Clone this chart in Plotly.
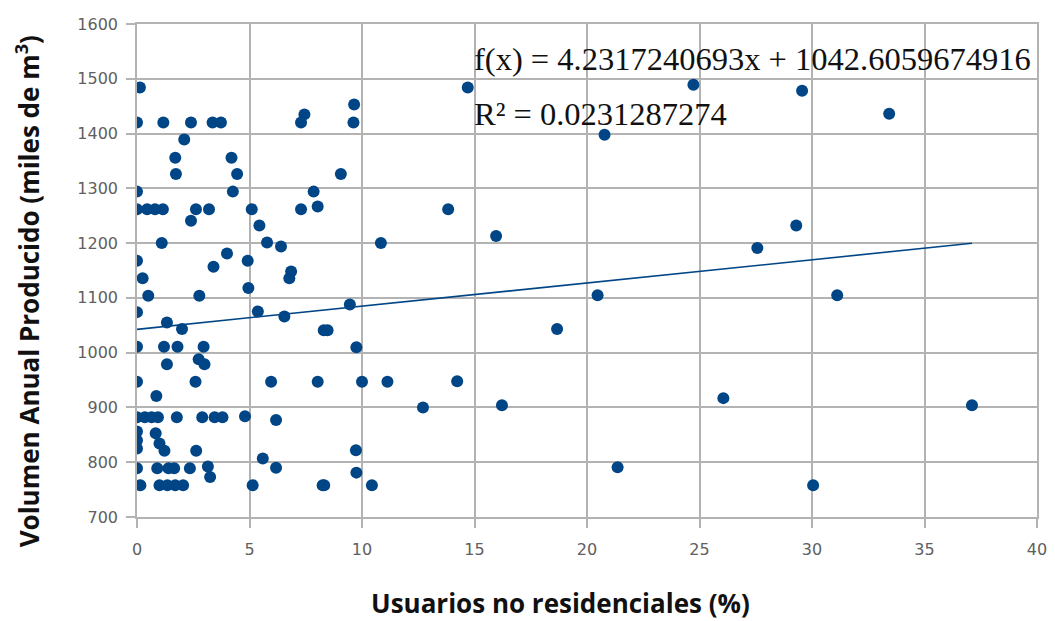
import plotly.graph_objects as go

# Share of non-residential users (%) and annual volume produced (thousand m3)
usuarios_pct = [
    0.13, 0.0, 1.17, 2.4, 3.36, 3.73, 2.1, 1.7, 1.73, 0.0,
    0.0, 0.45, 0.8, 1.15, 2.62, 3.2, 2.4, 1.1, 0.0, 0.25,
    3.4, 4.0, 0.5, 2.77, 0.0, 1.33, 2.0, 0.0, 1.2, 1.8,
    2.96, 1.33, 2.74, 3.0, 0.0, 2.6, 0.86, 0.0, 0.35, 0.65,
    0.93, 1.77, 2.9, 3.45, 3.8, 4.8, 6.18, 0.0, 0.0, 0.0,
    0.83, 1.0, 1.22, 2.63, 0.0, 0.9, 1.4, 1.65, 2.35, 3.15,
    3.25, 0.15, 1.0, 1.35, 1.7, 2.05, 7.44, 7.29, 4.2, 4.45,
    4.26, 5.1, 5.44, 5.78, 6.4, 7.29, 8.03, 7.85, 6.85, 6.77,
    4.92, 4.95, 5.37, 6.55, 8.3, 5.96, 8.03, 5.59, 6.18, 5.14,
    8.25, 9.65, 9.62, 9.06, 10.84, 9.46, 8.47, 9.75, 10.0, 11.13,
    12.71, 9.73, 9.75, 8.32, 10.44, 13.83, 14.7, 14.23, 15.96, 16.22,
    18.67, 20.47, 20.78, 21.36, 24.73, 26.06, 27.57, 29.3, 29.56, 30.05,
    31.12, 33.43, 37.11,
]
volumen_anual = [
    1484, 1420, 1420, 1420, 1420, 1420, 1389, 1356, 1326, 1294,
    1262, 1262, 1262, 1262, 1262, 1262, 1241, 1200, 1168, 1136,
    1157, 1181, 1104, 1104, 1074, 1055, 1043, 1011, 1011, 1011,
    1011, 979, 988, 979, 947, 947, 921, 882, 882, 882,
    882, 882, 882, 882, 882, 884, 877, 856, 840, 825,
    853, 834, 821, 821, 789, 789, 789, 789, 789, 792,
    773, 758, 758, 758, 758, 758, 1435, 1420, 1356, 1326,
    1294, 1262, 1232, 1201, 1194, 1262, 1267, 1294, 1148, 1136,
    1168, 1118, 1075, 1066, 1041, 947, 947, 807, 790, 758,
    758, 1453, 1420, 1326, 1200, 1088, 1041, 1010, 947, 947,
    900, 822, 781, 758, 758, 1262, 1484, 948, 1213, 904,
    1043, 1105, 1398, 791, 1489, 917, 1191, 1232, 1478, 758,
    1105, 1436, 904,
]

# Linear trend reported in the chart
pendiente = 4.2317240693
intercepto = 1042.6059674916
r_cuadrado = 0.0231287274

x_min, x_max = min(usuarios_pct), max(usuarios_pct)
tendencia_x = [x_min, x_max]
tendencia_y = [intercepto + pendiente * v for v in tendencia_x]

azul = "#004586"
gris = "#b3b3b3"

fig = go.Figure()
fig.add_trace(go.Scatter(
    x=usuarios_pct, y=volumen_anual, mode="markers",
    marker=dict(color=azul, size=12, line=dict(width=0)),
    showlegend=False, hoverinfo="x+y",
))
fig.add_trace(go.Scatter(
    x=tendencia_x, y=tendencia_y, mode="lines",
    line=dict(color=azul, width=1.6),
    showlegend=False, hoverinfo="skip",
))

esp = "\u00a0"
ecuacion = f"f(x){esp}={esp}{pendiente:.10f}x{esp}+{esp}{intercepto:.10f}"
r2_texto = f"R²{esp}={esp}{r_cuadrado:.10f}"

fuente_eq = dict(family="Liberation Serif", size=32.5, color="#111111")
fig.add_annotation(
    x=14.9, y=1536, xref="x", yref="y", text=ecuacion, showarrow=False,
    xanchor="left", yanchor="middle", font=fuente_eq,
)
fig.add_annotation(
    x=14.9, y=1436, xref="x", yref="y", text=r2_texto, showarrow=False,
    xanchor="left", yanchor="middle", font=fuente_eq,
)

# Axis titles placed as annotations (paper coordinates)
fuente_titulo = dict(family="Open Sans", size=26, color="#111111", weight="bold")
fig.add_annotation(
    x=-0.121, y=0.458, xref="paper", yref="paper",
    text="Volumen Anual Producido (miles de m<sup>3</sup>)",
    textangle=-90, showarrow=False, xanchor="center", yanchor="middle",
    font=fuente_titulo,
)
fig.add_annotation(
    x=0.4706, y=-0.1744, xref="paper", yref="paper",
    text="Usuarios no residenciales (%)",
    showarrow=False, xanchor="center", yanchor="middle",
    font=fuente_titulo,
)

eje_comun = dict(
    showgrid=True, gridcolor=gris, gridwidth=1.5,
    showline=True, linecolor=gris, linewidth=1.5, mirror=True,
    ticks="outside", ticklen=9, tickcolor=gris, tickwidth=1.5,
    tickfont=dict(family="DejaVu Sans", size=16, color="#606060"),
    zeroline=False, automargin=False,
)

fig.update_xaxes(
    range=[0, 40], tickvals=list(range(0, 41, 5)), ticklabelstandoff=8,
    **eje_comun,
)
fig.update_yaxes(
    range=[700, 1600], tickvals=list(range(700, 1601, 100)), ticklabelstandoff=5,
    **eje_comun,
)

fig.update_layout(
    width=1055, height=621,
    margin=dict(l=137, r=18, t=24, b=104),
    paper_bgcolor="white", plot_bgcolor="white",
)

fig.write_html("out.html")
